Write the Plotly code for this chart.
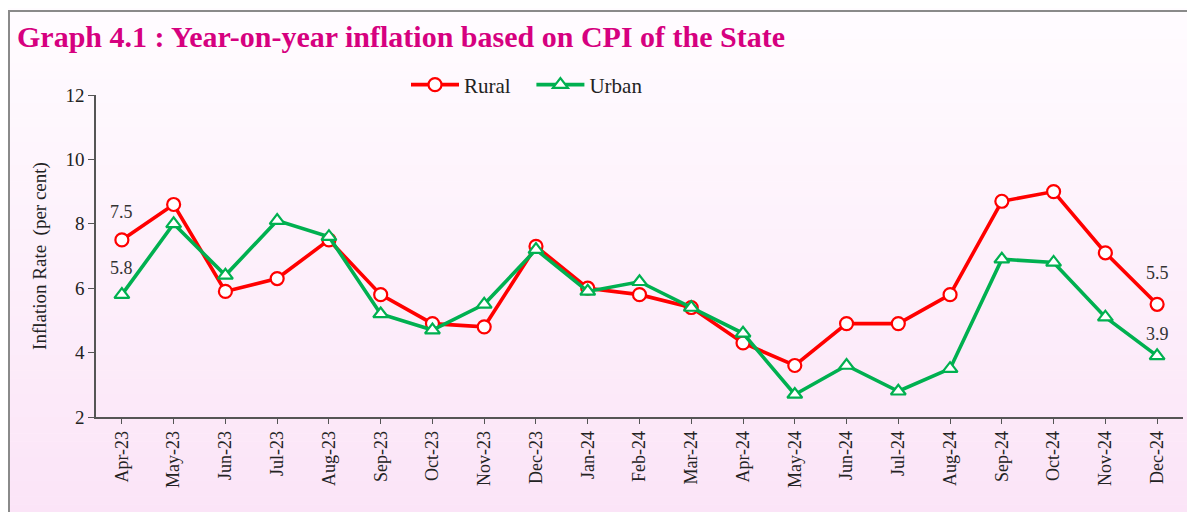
import plotly.graph_objects as go

months = ["Apr-23", "May-23", "Jun-23", "Jul-23", "Aug-23", "Sep-23", "Oct-23",
          "Nov-23", "Dec-23", "Jan-24", "Feb-24", "Mar-24", "Apr-24", "May-24",
          "Jun-24", "Jul-24", "Aug-24", "Sep-24", "Oct-24", "Nov-24", "Dec-24"]
rural = [7.5, 8.6, 5.9, 6.3, 7.5, 5.8, 4.9, 4.8, 7.3, 6.0, 5.8, 5.4, 4.3, 3.6,
         4.9, 4.9, 5.8, 8.7, 9.0, 7.1, 5.5]
urban = [5.8, 8.0, 6.4, 8.1, 7.6, 5.2, 4.7, 5.5, 7.2, 5.9, 6.2, 5.4, 4.6, 2.7,
         3.6, 2.8, 3.5, 6.9, 6.8, 5.1, 3.9]
y_ticks = [2, 4, 6, 8, 10, 12]

# page is 1195x512; the html body adds an 8px margin, so the figure is 8px smaller
OFF = 8
W, H = 1195 - OFF, 512 - OFF
# plot area in page pixels: x 96..1183, y 95..417
ML, MT = 96 - OFF, 95 - OFF
MR, MB = W - (1183 - OFF), H - (417 - OFF)
PW, PH = W - ML - MR, H - MT - MB

SERIF = "Liberation Serif, Times New Roman, serif"
RED = "#FF0000"
GREEN = "#00B050"

fig = go.Figure()
fig.add_trace(go.Scatter(
    x=months, y=rural, name="Rural&nbsp;&nbsp;&nbsp;", mode="lines+markers",
    line=dict(color=RED, width=3.6),
    marker=dict(symbol="circle", size=13, color="white", line=dict(color=RED, width=2.2)),
))
fig.add_trace(go.Scatter(
    x=months, y=urban, name="Urban", mode="lines+markers",
    line=dict(color=GREEN, width=3.6),
    marker=dict(symbol="triangle-up", size=13, color="white", line=dict(color=GREEN, width=2.2)),
))


def px2paper_x(page_px):
    return (page_px - OFF - ML) / PW


def px2paper_y(page_py):
    return (H - MB - (page_py - OFF)) / PH


# background gradient (white -> light pink) across the figure
shapes = []
n = 64
top_c = (255, 252, 255)
bot_c = (251, 228, 247)
for i in range(n):
    y0p = OFF + i * H / n
    y1p = OFF + (i + 1) * H / n + 0.6
    t = (i + 0.5) / n
    c = tuple(round(top_c[k] + (bot_c[k] - top_c[k]) * t) for k in range(3))
    shapes.append(dict(type="rect", xref="paper", yref="paper", layer="below",
                       x0=px2paper_x(OFF), x1=px2paper_x(1195 + 2),
                       y0=px2paper_y(y1p), y1=px2paper_y(y0p),
                       line=dict(width=0), fillcolor="rgb(%d,%d,%d)" % c))
# outer frame (left and top edges visible)
shapes.append(dict(type="rect", xref="paper", yref="paper", layer="below",
                   x0=px2paper_x(9), x1=px2paper_x(1195 + 20),
                   y0=px2paper_y(512 + 20), y1=px2paper_y(11),
                   line=dict(color="#8a8a8a", width=2), fillcolor="rgba(0,0,0,0)"))

annotations = [
    dict(x=months[0], y=rural[0], text=f"{rural[0]:.1f}", showarrow=False, yshift=28),
    dict(x=months[0], y=urban[0], text=f"{urban[0]:.1f}", showarrow=False, yshift=27),
    dict(x=months[-1], y=rural[-1], text=f"{rural[-1]:.1f}", showarrow=False, yshift=31),
    dict(x=months[-1], y=urban[-1], text=f"{urban[-1]:.1f}", showarrow=False, yshift=22),
]
for a in annotations:
    a["font"] = dict(family=SERIF, size=18, color="#333333")

fig.update_layout(
    width=W, height=H,
    margin=dict(l=ML, r=MR, t=MT, b=MB, autoexpand=False),
    paper_bgcolor="white",
    plot_bgcolor="rgba(0,0,0,0)",
    shapes=shapes,
    annotations=annotations,
    title=dict(text="<b>Graph 4.1 : Year-on-year inflation based on CPI of the State</b>",
               x=9 / W, xanchor="left", xref="container",
               y=1 - 28 / H, yanchor="middle", yref="container",
               font=dict(family=SERIF, size=30, color="#D6007F")),
    legend=dict(orientation="h", x=px2paper_x(527), xanchor="center",
                y=px2paper_y(85), yanchor="middle",
                font=dict(family=SERIF, size=21, color="#222222"),
                bgcolor="rgba(0,0,0,0)", itemwidth=48, tracegroupgap=0),
    showlegend=True,
    font=dict(family=SERIF, color="#222222"),
)
fig.update_xaxes(
    type="category", range=[-0.5, len(months) - 0.5],
    tickangle=-90, ticks="outside", ticklen=5, tickcolor="#555555",
    showline=True, linecolor="#555555", linewidth=1.5,
    showgrid=False, zeroline=False, automargin=False,
    tickfont=dict(family=SERIF, size=18, color="#222222"),
)
fig.update_yaxes(
    range=[2, 12], tickvals=y_ticks, ticks="outside", ticklen=6, tickcolor="#555555",
    showline=True, linecolor="#555555", linewidth=1.5,
    showgrid=False, zeroline=False, automargin=False,
    tickfont=dict(family=SERIF, size=19, color="#222222"),
    title=dict(text="Inflation Rate  (per cent)", standoff=14,
               font=dict(family=SERIF, size=19, color="#222222")),
)

fig.write_html("out.html")
